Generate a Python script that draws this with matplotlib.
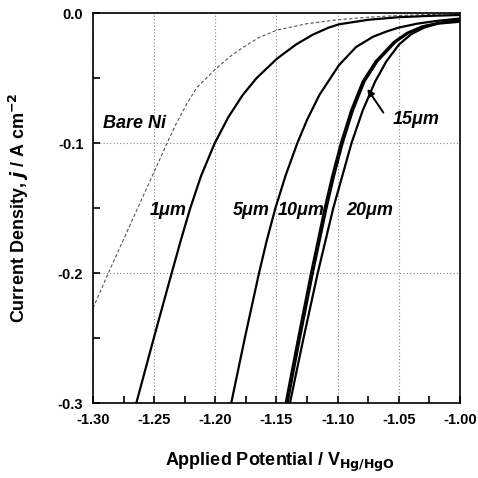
import matplotlib.pyplot as plt
from matplotlib.ticker import MultipleLocator

# Data (potential in V vs Hg/HgO, current density in A cm^-2)
bare_E = [-1.300, -1.2875, -1.2635, -1.250, -1.2395, -1.2320, -1.2235, -1.2150, -1.2010,
          -1.189, -1.177, -1.165, -1.150, -1.125, -1.100, -1.075, -1.050, -1.025, -1.000]
bare_j = [-0.227, -0.200, -0.150, -0.122, -0.100, -0.085, -0.070, -0.057, -0.044,
          -0.034, -0.026, -0.019, -0.013, -0.008, -0.005, -0.003, -0.0017, -0.0009, -0.0005]

um1_E = [-1.2646, -1.2503, -1.2357, -1.2283, -1.2205, -1.2116, -1.2005, -1.1894, -1.1777,
         -1.1664, -1.1497, -1.134, -1.1204, -1.1073, -1.099, -1.075, -1.050, -1.025, -1.000]
um1_j = [-0.300, -0.250, -0.200, -0.175, -0.150, -0.125, -0.100, -0.080, -0.063,
         -0.050, -0.035, -0.024, -0.0165, -0.011, -0.0085, -0.005, -0.003, -0.002, -0.0013]

um5_E = [-1.187, -1.1759, -1.1643, -1.158, -1.1509, -1.1426, -1.133, -1.125, -1.115,
         -1.099, -1.085, -1.071, -1.060, -1.050, -1.035, -1.020, -1.000]
um5_j = [-0.300, -0.250, -0.200, -0.175, -0.150, -0.125, -0.100, -0.082, -0.063,
         -0.040, -0.026, -0.018, -0.014, -0.011, -0.008, -0.006, -0.004]

um10_E = [-1.1425, -1.1323, -1.1218, -1.1106, -1.1044, -1.0974, -1.0891, -1.0796, -1.069,
          -1.054, -1.0432, -1.0307, -1.018, -1.000]
um10_j = [-0.300, -0.250, -0.200, -0.150, -0.125, -0.100, -0.075, -0.0526, -0.037,
          -0.022, -0.015, -0.010, -0.0075, -0.0055]

um15_E = [-1.141, -1.1308, -1.1203, -1.1091, -1.1029, -1.0959, -1.0876, -1.0781, -1.0675,
          -1.0525, -1.0417, -1.0292, -1.0165, -1.000]
um15_j = [-0.300, -0.250, -0.200, -0.150, -0.125, -0.100, -0.075, -0.0526, -0.037,
          -0.022, -0.015, -0.010, -0.0075, -0.005]

um20_E = [-1.139, -1.1279, -1.1163, -1.1036, -1.0887, -1.0796, -1.0694, -1.0602, -1.0498,
          -1.0398, -1.0292, -1.018, -1.000]
um20_j = [-0.300, -0.250, -0.200, -0.150, -0.100, -0.075, -0.0526, -0.037, -0.024,
          -0.016, -0.011, -0.008, -0.0065]

plt.rcParams['font.family'] = ['Liberation Sans', 'DejaVu Sans']
plt.rcParams['font.weight'] = 'bold'

fig = plt.figure(figsize=(4.78, 4.78), dpi=100)
ax = fig.add_axes([0.1946, 0.1569, 0.7677, 0.8153])

ax.plot(bare_E, bare_j, color='#555555', lw=0.8, ls=(0, (3, 2)))
for E, j in [(um1_E, um1_j), (um5_E, um5_j), (um10_E, um10_j),
             (um15_E, um15_j), (um20_E, um20_j)]:
    ax.plot(E, j, color='black', lw=1.6, solid_joinstyle='round')

ax.set_xlim(-1.30, -1.00)
ax.set_ylim(-0.3, 0.0)
ax.xaxis.set_major_locator(MultipleLocator(0.05))
ax.xaxis.set_minor_locator(MultipleLocator(0.025))
ax.yaxis.set_major_locator(MultipleLocator(0.1))
ax.yaxis.set_minor_locator(MultipleLocator(0.05))
ax.xaxis.set_major_formatter(lambda v, p: f'{v:.2f}')
ax.yaxis.set_major_formatter(lambda v, p: f'{v:.1f}')
ax.grid(True, which='major', ls=(0, (1, 2)), color='#888888', lw=0.8)
ax.tick_params(which='both', direction='in', top=False, right=False,
               labelsize=10.5, width=1.2, pad=7)
ax.tick_params(which='major', length=5)
ax.tick_params(which='minor', length=5)
for s in ax.spines.values():
    s.set_linewidth(1.2)

ax.set_xlabel(r'Applied Potential / V$_{\mathbf{Hg/HgO}}$', fontsize=13, fontweight='bold')
ax.xaxis.set_label_coords(0.51, -0.123)
ax.set_ylabel(r'Current Density, $\boldsymbol{j}$ / A cm$^{\mathbf{-2}}$', fontsize=13, fontweight='bold', labelpad=19)

lab = dict(fontsize=13, fontweight='bold', style='italic', va='center', ha='left')
ax.text(-1.2918, -0.0845, 'Bare Ni', **lab)
ax.text(-1.2534, -0.152, '1\u03bcm', **lab)
ax.text(-1.1856, -0.1515, '5\u03bcm', **lab)
ax.text(-1.149, -0.1515, '10\u03bcm', **lab)
ax.text(-1.0927, -0.1515, '20\u03bcm', **lab)
ax.text(-1.0549, -0.082, '15\u03bcm', **lab)
ax.annotate('', xy=(-1.077, -0.0564), xytext=(-1.0614, -0.0782),
            arrowprops=dict(arrowstyle='-|>', color='black', lw=1.4, mutation_scale=10))

fig.savefig('out.png', dpi=100)
